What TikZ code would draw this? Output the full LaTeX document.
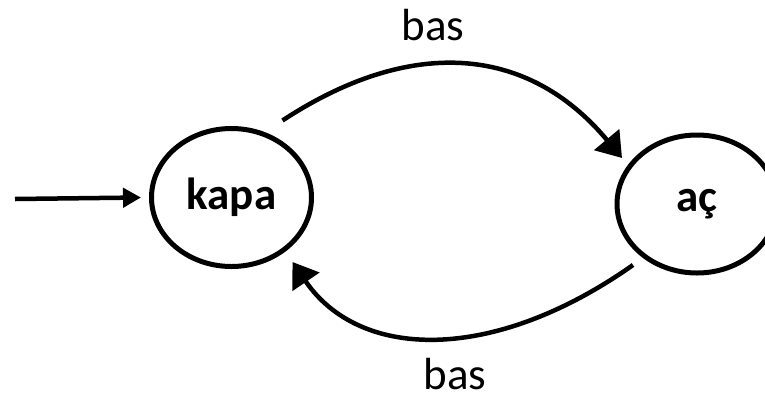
\documentclass[tikz,border=0pt]{standalone}
\usepackage{fontspec}
\setmainfont{Carlito}
\usetikzlibrary{arrows.meta,calc,shapes.geometric}
\begin{document}
\begin{tikzpicture}[x=1pt,y=-1pt,
  statebox/.style={draw,ellipse,line width=5pt,minimum width=160pt,minimum height=138pt,inner sep=0pt,font=\fontsize{45}{50}\selectfont\bfseries},
  edge/.style={line width=4.5pt,-{Triangle[length=24pt,width=32pt]}},
  initedge/.style={line width=4.5pt,-{Triangle[length=18pt,width=19pt]}},
  lbl/.style={anchor=base,inner sep=0pt,font=\fontsize{45}{50}\selectfont}]
\useasboundingbox (0,0) rectangle (765,397);
\node[statebox] (kapa) at (231.5,197.5) {kapa};
\node[statebox] (ac) at (697,204) {aç};
\coordinate (start) at (15,199);
\draw[initedge] (start) -- ([xshift=-8pt]kapa.west);
\draw[edge] ($(kapa.center)+(51,-77)$) .. controls (408,38) and (526,43) .. ($(ac.center)+(-75,-46)$);
\draw[edge] ($(ac.center)+(-64,61)$) .. controls (494,363) and (360,361) .. ($(kapa.center)+(61,64.5)$);
\node[lbl] (top) at (433,40) {bas};
\node[lbl] (bot) at (455,389) {bas};
\end{tikzpicture}
\end{document}
